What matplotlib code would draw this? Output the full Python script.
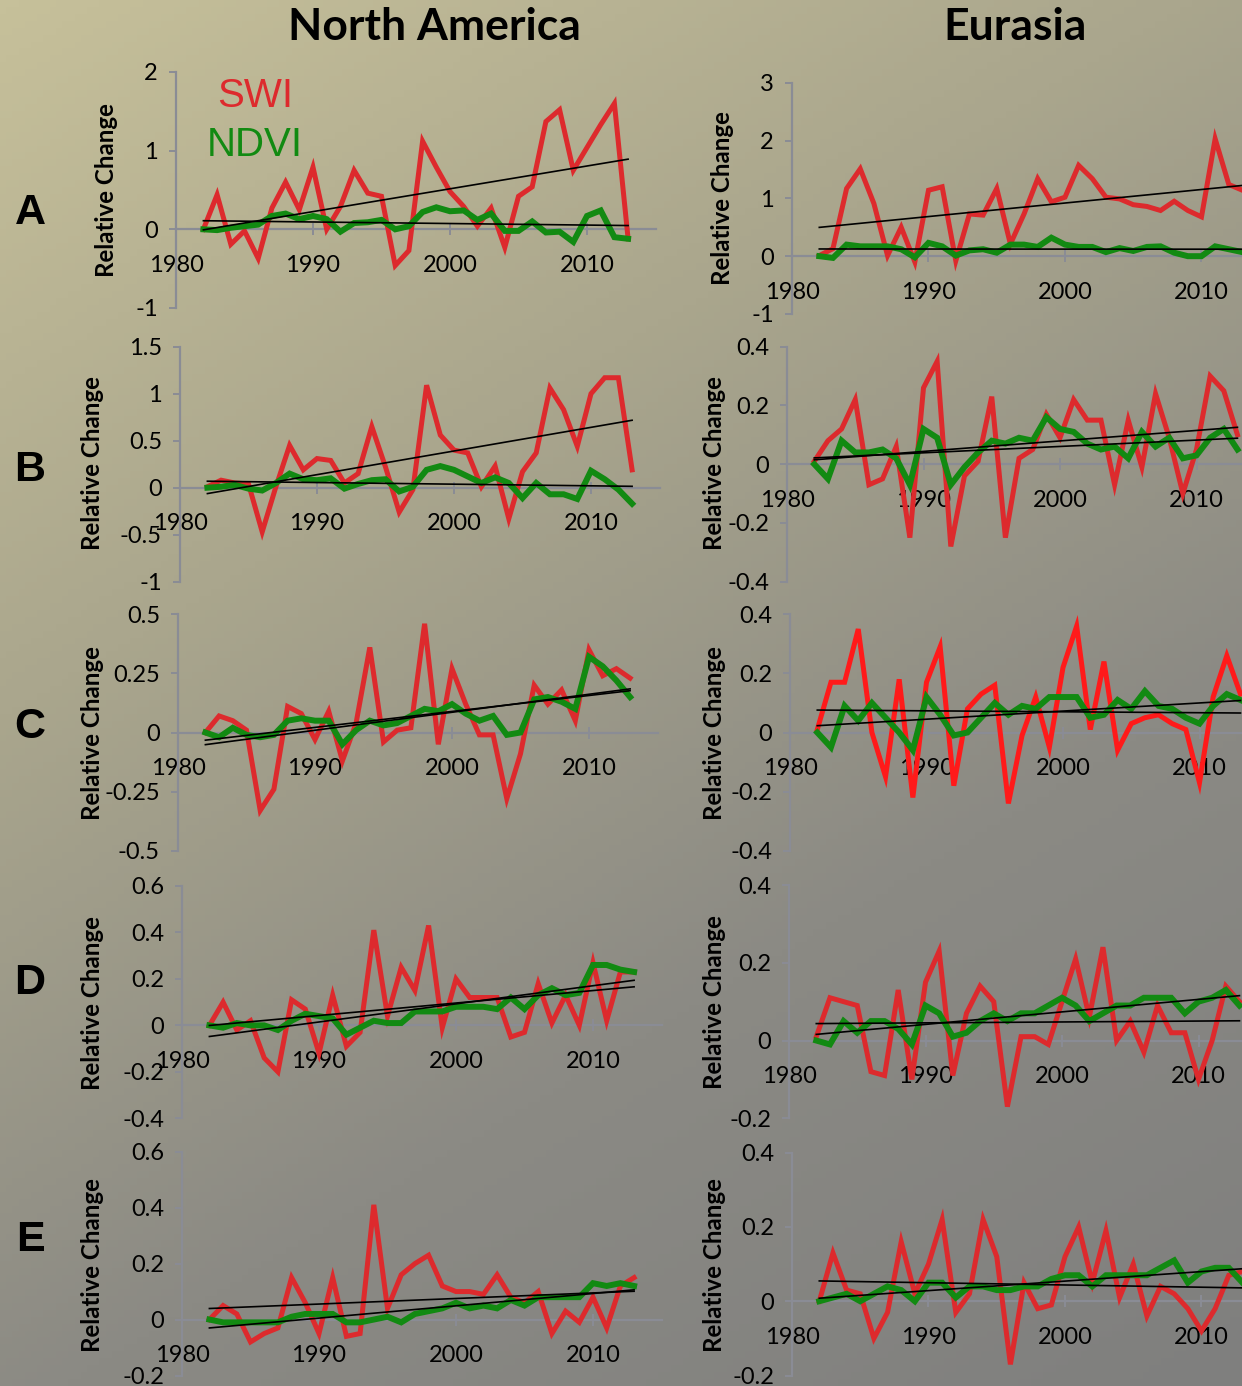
import matplotlib
matplotlib.use('Agg')
import matplotlib.pyplot as plt
import numpy as np
from matplotlib.colors import LinearSegmentedColormap

plt.rcParams['axes.unicode_minus'] = False
plt.rcParams['font.family'] = ['Lato', 'DejaVu Sans']

years = np.arange(1982, 2014)

# North America
na_a_swi = [0.0, 0.44, -0.19, -0.02, -0.37, 0.27, 0.60, 0.25, 0.79, 0.0, 0.29, 0.75, 0.46, 0.42, -0.46, -0.27,
            1.12, 0.79, 0.48, 0.29, 0.04, 0.27, -0.23, 0.42, 0.54, 1.37, 1.52, 0.75, 1.04, 1.33, 1.60, -0.12]
na_a_ndvi = [0.0, -0.01, 0.02, 0.04, 0.06, 0.17, 0.20, 0.13, 0.17, 0.13, -0.03, 0.08, 0.09, 0.12, 0.0, 0.04,
             0.22, 0.28, 0.23, 0.24, 0.12, 0.20, -0.02, -0.02, 0.10, -0.04, -0.03, -0.16, 0.17, 0.24, -0.10, -0.12]
na_b_swi = [0.01, 0.08, 0.05, 0.04, -0.47, 0.01, 0.45, 0.19, 0.31, 0.29, 0.05, 0.15, 0.65, 0.22, -0.26, -0.02,
            1.09, 0.56, 0.40, 0.37, 0.01, 0.23, -0.33, 0.17, 0.37, 1.06, 0.83, 0.44, 1.0, 1.17, 1.17, 0.19]
na_b_ndvi = [0.0, 0.01, 0.03, -0.01, -0.03, 0.05, 0.15, 0.09, 0.08, 0.10, -0.01, 0.04, 0.08, 0.09, -0.04, 0.01,
             0.19, 0.23, 0.19, 0.12, 0.05, 0.11, 0.05, -0.11, 0.05, -0.07, -0.07, -0.12, 0.18, 0.09, -0.02, -0.17]
na_c_swi = [0.0, 0.07, 0.05, 0.01, -0.33, -0.24, 0.11, 0.08, -0.03, 0.09, -0.12, 0.04, 0.36, -0.04, 0.01, 0.02,
            0.46, -0.05, 0.27, 0.12, -0.01, -0.01, -0.28, -0.09, 0.20, 0.12, 0.18, 0.05, 0.35, 0.24, 0.27, 0.23]
na_c_ndvi = [0.0, -0.02, 0.02, -0.01, -0.02, -0.01, 0.05, 0.06, 0.05, 0.05, -0.05, 0.01, 0.05, 0.03, 0.04, 0.07,
             0.10, 0.09, 0.12, 0.08, 0.05, 0.07, -0.01, 0.0, 0.14, 0.15, 0.13, 0.10, 0.32, 0.28, 0.22, 0.15]
na_d_swi = [0.0, 0.10, -0.02, 0.02, -0.14, -0.20, 0.11, 0.07, -0.12, 0.13, -0.09, -0.03, 0.41, 0.04, 0.25, 0.15,
            0.43, -0.01, 0.20, 0.12, 0.12, 0.12, -0.05, -0.03, 0.18, 0.01, 0.13, 0.0, 0.27, 0.02, 0.23, 0.23]
na_d_ndvi = [0.0, -0.01, 0.01, 0.0, 0.0, -0.02, 0.02, 0.05, 0.04, 0.03, -0.04, -0.01, 0.02, 0.01, 0.01, 0.06,
             0.06, 0.06, 0.08, 0.08, 0.08, 0.07, 0.12, 0.07, 0.13, 0.16, 0.13, 0.14, 0.26, 0.26, 0.24, 0.23]
na_e_swi = [0.0, 0.05, 0.02, -0.08, -0.05, -0.03, 0.15, 0.06, -0.05, 0.15, -0.06, -0.05, 0.41, 0.04, 0.16, 0.20,
            0.23, 0.12, 0.10, 0.10, 0.09, 0.16, 0.08, 0.06, 0.10, -0.05, 0.03, -0.01, 0.08, -0.03, 0.12, 0.15]
na_e_ndvi = [0.0, -0.01, -0.01, -0.01, -0.01, -0.01, 0.01, 0.02, 0.02, 0.02, -0.01, -0.01, 0.0, 0.01, -0.01, 0.02,
             0.03, 0.04, 0.06, 0.04, 0.05, 0.04, 0.07, 0.05, 0.08, 0.08, 0.08, 0.08, 0.13, 0.12, 0.13, 0.12]

# Eurasia
eu_a_swi = [0.01, 0.13, 1.17, 1.51, 0.91, 0.01, 0.50, -0.10, 1.14, 1.20, -0.08, 0.73, 0.71, 1.17, 0.21, 0.73,
            1.34, 0.94, 1.02, 1.57, 1.34, 1.02, 0.99, 0.89, 0.86, 0.79, 0.95, 0.79, 0.68, 2.03, 1.24, 1.14]
eu_a_ndvi = [0.0, -0.03, 0.20, 0.17, 0.17, 0.17, 0.12, -0.02, 0.23, 0.17, 0.01, 0.10, 0.12, 0.06, 0.20, 0.20,
             0.16, 0.32, 0.20, 0.16, 0.16, 0.07, 0.14, 0.09, 0.16, 0.17, 0.06, 0.0, 0.0, 0.17, 0.12, 0.07]
eu_b_swi = [0.01, 0.08, 0.12, 0.22, -0.07, -0.05, 0.06, -0.25, 0.26, 0.35, -0.28, -0.04, 0.01, 0.23, -0.25, 0.02,
            0.05, 0.17, 0.09, 0.22, 0.15, 0.15, -0.07, 0.15, -0.01, 0.24, 0.09, -0.10, 0.05, 0.30, 0.25, 0.10]
eu_b_ndvi = [0.0, -0.05, 0.08, 0.04, 0.04, 0.05, 0.02, -0.07, 0.12, 0.09, -0.07, -0.01, 0.04, 0.08, 0.07, 0.09,
             0.08, 0.16, 0.12, 0.11, 0.07, 0.05, 0.06, 0.02, 0.11, 0.06, 0.09, 0.02, 0.03, 0.09, 0.12, 0.05]
eu_c_swi = [0.01, 0.17, 0.17, 0.35, 0.0, -0.15, 0.18, -0.22, 0.17, 0.29, -0.18, 0.08, 0.13, 0.16, -0.24, -0.01,
            0.12, -0.05, 0.22, 0.36, 0.01, 0.24, -0.06, 0.03, 0.05, 0.06, 0.03, 0.01, -0.17, 0.12, 0.26, 0.13]
eu_c_ndvi = [0.0, -0.05, 0.09, 0.04, 0.10, 0.05, 0.0, -0.06, 0.12, 0.06, -0.01, 0.0, 0.05, 0.10, 0.06, 0.09,
             0.08, 0.12, 0.12, 0.12, 0.05, 0.06, 0.11, 0.08, 0.14, 0.09, 0.08, 0.05, 0.03, 0.09, 0.13, 0.11]
eu_d_swi = [0.01, 0.11, 0.10, 0.09, -0.08, -0.09, 0.13, -0.10, 0.15, 0.23, -0.09, 0.07, 0.14, 0.10, -0.17, 0.01,
            0.01, -0.01, 0.10, 0.21, 0.06, 0.24, 0.0, 0.05, -0.03, 0.09, 0.02, 0.02, -0.10, 0.0, 0.14, 0.10]
eu_d_ndvi = [0.0, -0.01, 0.05, 0.02, 0.05, 0.05, 0.03, -0.01, 0.09, 0.07, 0.01, 0.02, 0.05, 0.07, 0.05, 0.07,
             0.07, 0.09, 0.11, 0.09, 0.05, 0.07, 0.09, 0.09, 0.11, 0.11, 0.11, 0.07, 0.10, 0.11, 0.13, 0.09]
eu_e_swi = [0.0, 0.13, 0.03, 0.02, -0.10, -0.03, 0.16, 0.02, 0.10, 0.22, -0.03, 0.02, 0.22, 0.12, -0.17, 0.05,
            -0.02, -0.01, 0.12, 0.20, 0.05, 0.19, 0.01, 0.10, -0.04, 0.04, 0.02, -0.02, -0.08, -0.02, 0.07, 0.08]
eu_e_ndvi = [0.0, 0.01, 0.02, 0.0, 0.02, 0.04, 0.03, 0.0, 0.05, 0.05, 0.01, 0.04, 0.04, 0.03, 0.03, 0.04,
             0.04, 0.06, 0.07, 0.07, 0.04, 0.07, 0.07, 0.07, 0.07, 0.09, 0.11, 0.05, 0.08, 0.09, 0.09, 0.05]

row_letters = ['A', 'B', 'C', 'D', 'E']
col_titles = ['North America', 'Eurasia']

W, H = 1242, 1386
fig = plt.figure(figsize=(W / 100, H / 100), dpi=100)

# background gradient
bg = fig.add_axes([0, 0, 1, 1])
bg.axis('off')
gx, gy = np.meshgrid(np.linspace(0, 1, 200), np.linspace(0, 1, 200))
grad = 0.35 * gx + 0.65 * gy
cmap = LinearSegmentedColormap.from_list('bg', ['#c6c09a', '#aaa68d', '#8b8a84', '#7f7f7e'])
bg.imshow(grad, cmap=cmap, aspect='auto', extent=[0, 1, 0, 1], origin='upper')
bg.set_xlim(0, 1)
bg.set_ylim(0, 1)

PX_YR_L = 13.7
PX_YR_R = 13.65


def px_rect(x0, pxyr, ytop, ybot):
    x1 = x0 + 35 * pxyr
    return [x0 / W, 1 - ybot / H, (x1 - x0) / W, (ybot - ytop) / H]


panels = [
    # (swi, ndvi, ylim, ytick step, pixel rect: x of 1980, px per year, y top, y bottom)
    (na_a_swi, na_a_ndvi, (-1, 2), 1, (176, PX_YR_L, 72, 308)),
    (eu_a_swi, eu_a_ndvi, (-1, 3), 1, (792, PX_YR_R, 82.7, 314)),
    (na_b_swi, na_b_ndvi, (-1, 1.5), 0.5, (180, PX_YR_L, 346.7, 581.7)),
    (eu_b_swi, eu_b_ndvi, (-0.4, 0.4), 0.2, (787, PX_YR_R, 346.7, 581.7)),
    (na_c_swi, na_c_ndvi, (-0.5, 0.5), 0.25, (178, PX_YR_L, 614.3, 850.7)),
    (eu_c_swi, eu_c_ndvi, (-0.4, 0.4), 0.2, (790, PX_YR_R, 614.3, 850.7)),
    (na_d_swi, na_d_ndvi, (-0.4, 0.6), 0.2, (182, PX_YR_L, 886, 1118.3)),
    (eu_d_swi, eu_d_ndvi, (-0.2, 0.4), 0.2, (789, PX_YR_R, 885, 1118.3)),
    (na_e_swi, na_e_ndvi, (-0.2, 0.6), 0.2, (182, PX_YR_L, 1151.7, 1375.5)),
    (eu_e_swi, eu_e_ndvi, (-0.2, 0.4), 0.2, (792, PX_YR_R, 1152.7, 1375.5)),
]

axis_grey = '#8a8c95'
for i, (swi, ndvi, ylim, step, rect) in enumerate(panels):
    ax = fig.add_axes(px_rect(*rect))
    ax.patch.set_alpha(0)
    red = '#ff1a1a' if i == 5 else '#dd2a2d'
    ax.plot(years, swi, color=red, lw=3.6, solid_joinstyle='miter', zorder=3)
    ax.plot(years, ndvi, color='#128a12', lw=4.3, solid_joinstyle='miter', zorder=4)
    for s in (swi, ndvi):
        k, b = np.polyfit(years, s, 1)
        ax.plot(years, k * years + b, color='black', lw=1.2, zorder=5)
    ax.set_xlim(1980, 2015)
    ax.set_ylim(*ylim)
    ticks = np.arange(ylim[0], ylim[1] + step / 2, step)
    ax.set_yticks(ticks)
    ax.set_yticklabels(['{:g}'.format(round(t, 2)) for t in ticks])
    ax.set_xticks([1980, 1990, 2000, 2010])
    for s in ('top', 'right'):
        ax.spines[s].set_visible(False)
    ax.spines['bottom'].set_position(('data', 0))
    for s in ('left', 'bottom'):
        ax.spines[s].set_color(axis_grey)
        ax.spines[s].set_linewidth(1.6)
    ax.tick_params(axis='y', direction='out', length=5, width=1.4, color=axis_grey,
                   labelsize=17, pad=8)
    ax.tick_params(axis='x', direction='inout', length=9, width=1.4, color=axis_grey,
                   labelsize=17, pad=14)

# y labels
ylab_pos = [(107, 190), (722, 198), (92, 463), (715, 463), (92, 733), (715, 733),
            (92, 1003), (715, 1002), (92, 1265), (715, 1265)]
for x, y in ylab_pos:
    fig.text(x / W, 1 - y / H, 'Relative Change', rotation=90, ha='center', va='center',
             fontsize=17.4, fontweight='bold')

# row letters
for letter, y in zip(row_letters, [213, 470, 727, 983, 1240]):
    fig.text(30 / W, 1 - y / H, letter, ha='center', va='center', fontsize=31,
             fontweight='bold', family='Liberation Sans')

# column titles
for title, x in zip(col_titles, [434, 1015]):
    fig.text(x / W, 1 - 27 / H, title, ha='center', va='center', fontsize=32, fontweight='bold')

# legend
fig.text(255 / W, 1 - 96 / H, 'SWI', color='#dd2a2d', ha='center', va='center', fontsize=29,
         family='Liberation Sans')
fig.text(255 / W, 1 - 145 / H, 'NDVI', color='#128a12', ha='center', va='center', fontsize=29,
         family='Liberation Sans')

fig.savefig('out.png', dpi=100)
